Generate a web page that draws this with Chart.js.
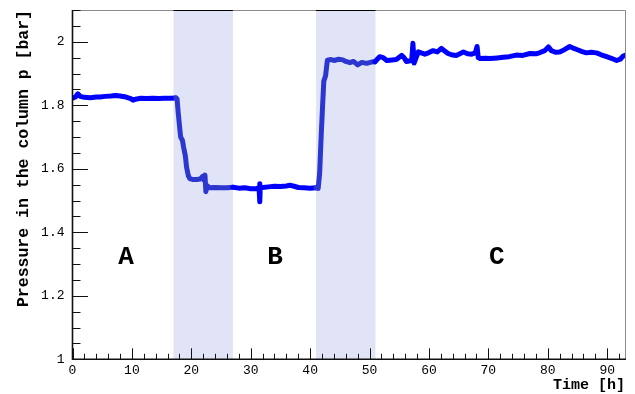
<!DOCTYPE html>
<html>
<head>
<meta charset="utf-8">
<script src="https://cdn.jsdelivr.net/npm/chart.js@4/dist/chart.umd.min.js"></script>
<style>
  html, body { margin: 0; padding: 0; background: #ffffff; }
  #wrap { width: 635px; height: 394px; position: relative; }
</style>
</head>
<body>
<div id="wrap"><canvas id="c"></canvas></div>
<script>
// ---- data ----
const timeH = [
  0.0, 0.5, 0.9, 1.3, 2.0, 3.0, 4.0, 4.6, 5.5, 6.5, 7.2, 8.0, 9.0, 9.8, 10.2, 10.8, 11.5, 12.5, 13.5, 14.5, 15.5, 16.5, 17.4,
  17.6, 17.8, 18.2, 18.5, 18.7, 19.0, 19.2, 19.5, 19.75, 20.3, 20.9, 21.5, 21.9, 22.1, 22.3, 22.45, 22.6, 23.1,
  24, 25, 26, 27, 28, 29, 30, 31, 31.4, 31.5, 31.55, 31.6, 32, 33, 34, 35, 36, 36.6, 37.3, 38, 39, 40, 41.0, 41.35,
  41.6, 41.85, 42.1, 42.3, 42.6, 42.9, 43.5, 44, 44.8, 45.5, 46.0, 46.7, 47.3, 48.0, 48.7, 49.5, 50.3, 50.9,
  51.7, 52.3, 52.9, 53.4, 54.5, 55.4, 55.8, 56.2, 57.1, 57.3, 57.5, 58.2, 59.3, 60.0, 60.7, 61.4, 62.1, 63.2,
  64.0, 64.6, 65.2, 65.8, 66.5, 67.2, 67.8, 68.1, 68.3, 68.6, 69.5, 70.3, 71.5, 72.5, 73.5, 74.7, 75.8, 77.0,
  78.0, 78.7, 79.5, 80.1, 80.6, 81.3, 82.0, 82.8, 83.7, 84.4, 85.1, 85.8, 86.5, 87.3, 88.2, 89.0, 89.9, 90.7,
  91.6, 92.2, 92.7, 93.0
];
const pressureBar = [
  1.822, 1.826, 1.836, 1.828, 1.825, 1.824, 1.826, 1.826, 1.828, 1.829, 1.831, 1.829, 1.826, 1.821, 1.816, 1.820, 1.822, 1.821, 1.822, 1.821, 1.822, 1.822, 1.823,
  1.820, 1.775, 1.700, 1.690, 1.668, 1.640, 1.605, 1.578, 1.569, 1.566, 1.566, 1.568, 1.576, 1.565, 1.580, 1.528, 1.548, 1.540,
  1.541, 1.540, 1.540, 1.542, 1.539, 1.540, 1.537, 1.538, 1.540, 1.553, 1.496, 1.540, 1.541, 1.543, 1.545, 1.544, 1.546, 1.548, 1.545, 1.541, 1.540, 1.539, 1.540, 1.538,
  1.585, 1.700, 1.800, 1.876, 1.893, 1.942, 1.944, 1.941, 1.945, 1.943, 1.938, 1.934, 1.938, 1.927, 1.935, 1.932, 1.936, 1.937,
  1.953, 1.950, 1.941, 1.942, 1.944, 1.957, 1.950, 1.938, 1.941, 1.995, 1.933, 1.968, 1.961, 1.966, 1.972, 1.968, 1.979, 1.963,
  1.958, 1.957, 1.962, 1.968, 1.962, 1.961, 1.965, 1.985, 1.950, 1.947, 1.948, 1.947, 1.949, 1.951, 1.953, 1.958, 1.957, 1.963,
  1.962, 1.966, 1.972, 1.984, 1.972, 1.967, 1.968, 1.975, 1.985, 1.979, 1.974, 1.969, 1.965, 1.967, 1.965, 1.959, 1.953, 1.948,
  1.941, 1.945, 1.955, 1.957
];
// shaded transition periods [start, end] in hours
const bandStart = [17, 41];
const bandEnd = [27, 51];
// phase labels
const phaseLabels = ['A', 'B', 'C'];
const phaseTime = [9.0, 34.1, 71.4];
const phasePressure = 1.32;
// axes
const xTickValues = [0, 10, 20, 30, 40, 50, 60, 70, 80, 90];
const yTickValues = [1, 1.2, 1.4, 1.6, 1.8, 2];
const yTickLabels = ['1', '1.2', '1.4', '1.6', '1.8', '2'];

const FONT = '"Liberation Mono", "Courier New", monospace';
const inBand = x => bandStart.some((s, i) => x >= s && x <= bandEnd[i]);

const points = timeH.map((t, i) => ({ x: t, y: pressureBar[i] }));

const decor = {
  id: 'decor',
  beforeDatasetsDraw(chart) {
    const { ctx, chartArea: a, scales: { x, y } } = chart;
    ctx.save();
    ctx.fillStyle = 'rgb(225,228,247)';
    bandStart.forEach((s, i) => {
      const x0 = x.getPixelForValue(s), x1 = x.getPixelForValue(bandEnd[i]);
      ctx.fillRect(x0, a.top, x1 - x0, a.bottom - a.top);
    });
    ctx.restore();
  },
  afterDatasetsDraw(chart) {
    const { ctx, chartArea: a, scales: { x, y } } = chart;
    ctx.save();
    // frame top and right (grey)
    ctx.strokeStyle = '#8a8a8a';
    ctx.lineWidth = 1;
    ctx.beginPath();
    ctx.moveTo(a.left, a.top + 0.5); ctx.lineTo(a.right + 0.5, a.top + 0.5);
    ctx.lineTo(a.right + 0.5, a.bottom);
    ctx.stroke();
    // band top edges (black)
    ctx.strokeStyle = '#000';
    bandStart.forEach((s, i) => {
      const x0 = x.getPixelForValue(s), x1 = x.getPixelForValue(bandEnd[i]);
      ctx.beginPath(); ctx.moveTo(x0, a.top + 0.5); ctx.lineTo(x1, a.top + 0.5); ctx.stroke();
    });
    // axes
    ctx.strokeStyle = '#111';
    ctx.lineWidth = 1.6;
    ctx.beginPath();
    ctx.moveTo(a.left, a.top); ctx.lineTo(a.left, a.bottom); ctx.lineTo(a.right + 1, a.bottom);
    ctx.stroke();
    // ticks (inside)
    ctx.lineWidth = 1;
    ctx.strokeStyle = '#111';
    ctx.beginPath();
    for (let v = 0; v <= x.max + 1e-9; v += 2) {
      const px = Math.round(x.getPixelForValue(v)) + 0.5;
      const major = Math.abs(v % 10) < 1e-9;
      ctx.moveTo(px, a.bottom); ctx.lineTo(px, a.bottom - (major ? 11 : 5.5));
    }
    for (let v = y.min; v <= y.max + 1e-9; v += 0.05) {
      const py = Math.round(y.getPixelForValue(v)) + 0.5;
      const major = Math.abs(Math.round(v * 100) % 20) === 0;
      ctx.moveTo(a.left, py); ctx.lineTo(a.left + (major ? 15.5 : 8), py);
    }
    ctx.stroke();
    // phase labels
    ctx.fillStyle = '#000';
    ctx.font = 'bold 26px ' + FONT;
    ctx.textAlign = 'center';
    ctx.textBaseline = 'middle';
    phaseLabels.forEach((t, i) => {
      ctx.fillText(t, x.getPixelForValue(phaseTime[i]), y.getPixelForValue(phasePressure));
    });
    ctx.restore();
  }
};

new Chart(document.getElementById('c'), {
  type: 'scatter',
  data: {
    datasets: [{
      data: points,
      showLine: true,
      borderColor: '#0000ff',
      borderWidth: 5,
      pointRadius: 0,
      tension: 0,
      borderJoinStyle: 'round',
      borderCapStyle: 'round',
      segment: {
        borderColor: c => (inBand(c.p0.parsed.x) && inBand(c.p1.parsed.x)) ? '#2b37cf' : '#0000ff'
      }
    }]
  },
  options: {
    responsive: true,
    maintainAspectRatio: false,
    devicePixelRatio: 1,
    animation: false,
    layout: { padding: { top: 10, right: 10, left: 0, bottom: 0 } },
    plugins: { legend: { display: false }, tooltip: { enabled: false } },
    scales: {
      x: {
        type: 'linear', min: 0, max: 93,
        grid: { display: false, drawTicks: false },
        border: { display: false },
        afterBuildTicks: s => { s.ticks = xTickValues.map(v => ({ value: v })); },
        afterFit: s => { s.height = 34.7; s.paddingLeft = 0; s.paddingRight = 0; },
        ticks: { color: '#000', font: { family: FONT, size: 13 }, padding: 3, maxRotation: 0, autoSkip: false,
                 callback: v => String(v) },
        title: { display: true, text: 'Time [h]', align: 'end', color: '#000',
                 font: { family: FONT, size: 15, weight: 'bold' }, padding: { top: 0, bottom: 0 } }
      },
      y: {
        type: 'linear', min: 1, max: 2.1,
        grid: { display: false, drawTicks: false },
        border: { display: false },
        afterBuildTicks: s => { s.ticks = yTickValues.map(v => ({ value: v })); },
        afterFit: s => { s.width = 72.5; s.paddingTop = 0; s.paddingBottom = 0; },
        ticks: { color: '#000', font: { family: FONT, size: 13 }, padding: 8, autoSkip: false,
                 callback: (v, i) => yTickLabels[i] },
        title: { display: true, text: 'Pressure in the column p [bar]', align: 'end', color: '#000',
                 font: { family: FONT, size: 16.5, weight: 'bold' }, padding: { top: 14, bottom: 0 } }
      }
    }
  },
  plugins: [decor]
});
</script>
</body>
</html>
